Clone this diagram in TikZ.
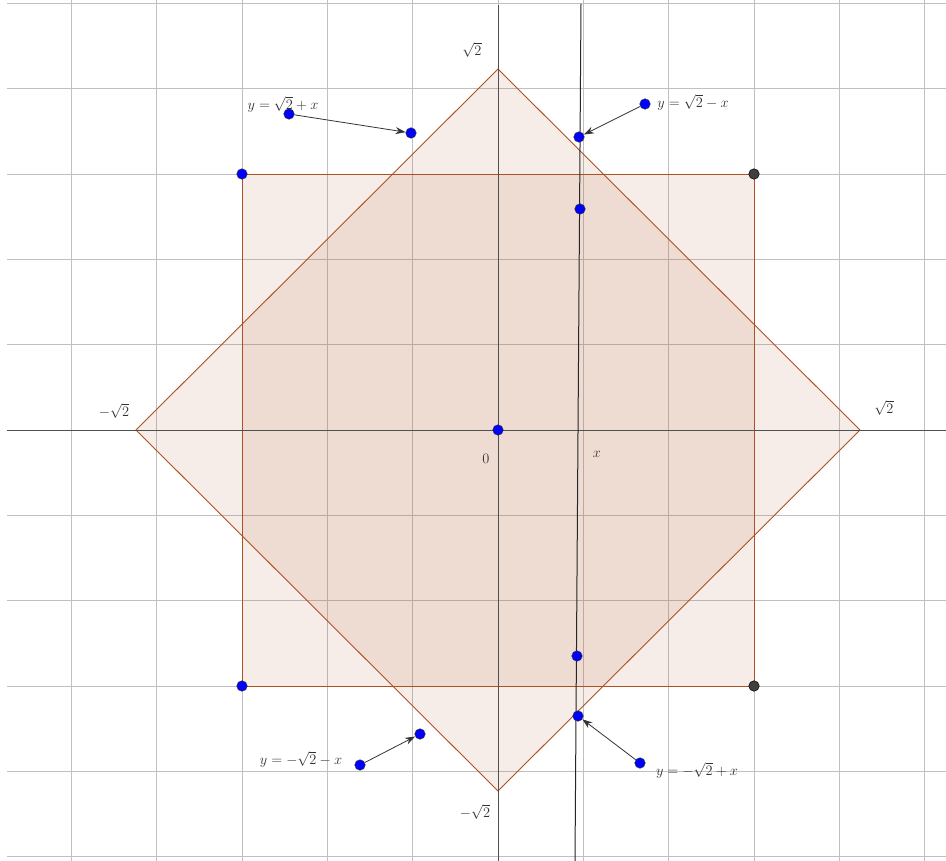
\documentclass[tikz,border=0pt]{standalone}
\usetikzlibrary{arrows.meta}
\definecolor{poly}{RGB}{175,80,35}
\definecolor{gridc}{RGB}{192,192,192}
\definecolor{axc}{RGB}{80,80,80}
\definecolor{txt}{RGB}{50,50,50}
\tikzset{
  bpt/.style={circle,fill=blue,draw=black!80,line width=0.5pt,inner sep=0pt,minimum size=10.5pt},
  gpt/.style={circle,fill=black!75,draw=black,line width=0.5pt,inner sep=0pt,minimum size=10.5pt},
  lbl/.style={text=txt,font=\fontsize{14.5}{16}\selectfont,inner sep=0pt},
  arr/.style={draw=black!80,line width=0.8pt,-{Stealth[length=10pt,width=7pt]}},
  polyst/.style={draw=poly,line width=0.9pt,fill=poly,fill opacity=0.1},
}
\begin{document}
\begin{tikzpicture}[x=1pt,y=-1pt]
\useasboundingbox (0,0) rectangle (946,861);
\fill[white] (0,0) rectangle (946,861);
% grid
\foreach \i in {-5,...,5} {
  \draw[gridc,line width=0.6pt] ({498+85.33*\i},0) -- ({498+85.33*\i},861);
  \draw[gridc,line width=0.6pt] (7,{430+85.33*\i}) -- (946,{430+85.33*\i});
}
% polygons
\path[polyst] (136,430) -- (498,69) -- (860,430) -- (498,791) -- cycle;
\path[polyst] (242,174) -- (754,174) -- (754,686) -- (242,686) -- cycle;
% axes
\draw[axc,line width=1pt] (7,430) -- (946,430);
\draw[axc,line width=1pt] (498,5) -- (498,861);
% line x
\coordinate (xt) at (581,4);
\coordinate (xb) at (575,861);
\draw[black!85,line width=1pt] (xt) -- (xb);
% points
\node[bpt] (A) at (242,174) {};
\node[gpt] (B) at (754,174) {};
\node[gpt] (C) at (754,686) {};
\node[bpt] (D) at (242,686) {};
\node[bpt] (O) at (498,430) {};
\node[bpt] (P1) at (289,114) {};
\node[bpt] (Q1) at (411,133) {};
\node[bpt] (P2) at (645,104) {};
\node[bpt] (Q2) at (579,137) {};
\node[bpt] (P3) at (360,765) {};
\node[bpt] (Q3) at (420,734) {};
\node[bpt] (P4) at (640,763) {};
\node[bpt] (Q4) at (578,716) {};
\node[bpt] (R1) at (580,209) {};
\node[bpt] (R2) at (577,656) {};
% arrows
\draw[arr] (P1) -- (Q1);
\draw[arr] (P2) -- (Q2);
\draw[arr] (P3) -- (Q3);
\draw[arr] (P4) -- (Q4);
% labels
\node[lbl] (L1) at (283,104) {$y=\sqrt{2}+x$};
\node[lbl] (L2) at (693,102) {$y=\sqrt{2}-x$};
\node[lbl] (L3) at (301,759) {$y=-\sqrt{2}-x$};
\node[lbl] (L4) at (697,770) {$y=-\sqrt{2}+x$};
\node[lbl] (T) at (472,50) {$\sqrt{2}$};
\node[lbl] (Lf) at (114,411) {$-\sqrt{2}$};
\node[lbl] (Rt) at (884,408) {$\sqrt{2}$};
\node[lbl] (Bt) at (475,812) {$-\sqrt{2}$};
\node[lbl] (Z) at (486,459) {$0$};
\node[lbl] (X) at (597,454) {$x$};
\end{tikzpicture}
\end{document}
